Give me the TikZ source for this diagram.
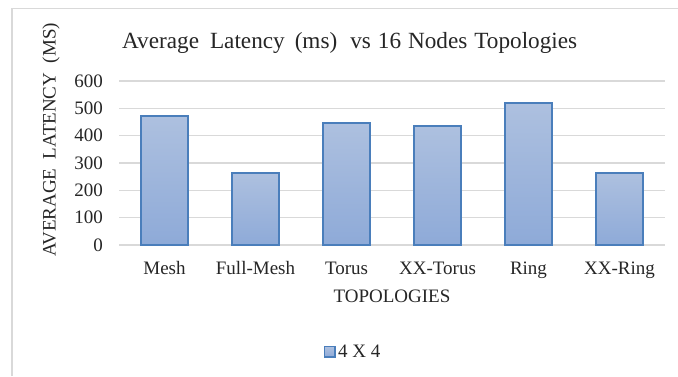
\documentclass[tikz,border=0pt]{standalone}
\usepackage{fontspec}
\setmainfont{Liberation Serif}
\definecolor{gridc}{HTML}{D9D9D9}
\definecolor{barline}{HTML}{4A7EBB}
\definecolor{bartop}{HTML}{ADC0DF}
\definecolor{barbot}{HTML}{8EAAD8}
\definecolor{txt}{HTML}{262626}
\begin{document}
\begin{tikzpicture}[x=1pt,y=-1pt,
  grid/.style={draw=gridc,line width=1.4pt},
  bar/.style={draw=barline,line width=1.8pt,top color=bartop,bottom color=barbot},
  ax/.style={text=txt,font=\fontsize{19}{22}\selectfont,inner sep=0pt},
  tick/.style={ax,anchor=east},
  cat/.style={ax,anchor=base}]
\useasboundingbox (0,0) rectangle (678,376);
\fill[white] (0,0) rectangle (678,376);
% frame
\draw[gridc,line width=1.5pt] (12,376) -- (12,8.5) -- (678,8.5);
% title
\node[ax,font=\fontsize{23.2}{26}\selectfont,anchor=base west] (title) at (122,48) {Average\hspace{11pt}Latency\hspace{10pt}(ms)\hspace{13pt}vs\hspace{7pt}16\hspace{7pt}Nodes\hspace{7pt}Topologies};
% gridlines and ticks
\foreach \v/\n in {0/t0,100/t1,200/t2,300/t3,400/t4,500/t5,600/t6}{
  \pgfmathsetmacro{\yy}{245-0.2733*\v}
  \draw[grid] (119,\yy) -- (665,\yy);
  \node[tick] (\n) at (103,\yy) {\v};
}
% bars
\foreach \c/\val/\nm/\lab in {0/472/mesh/Mesh,1/263/fmesh/Full-Mesh,2/446/torus/Torus,3/435/xxtorus/XX-Torus,4/519/ring/Ring,5/263/xxring/XX-Ring}{
  \pgfmathsetmacro{\cx}{164.5+91*\c}
  \pgfmathsetmacro{\yy}{245-0.2733*\val}
  \draw[bar] (\cx-23.5,245) rectangle (\cx+23.5,\yy);
  \node[cat] (\nm) at (\cx,274) {\lab};
}
% axis titles
\node[cat] (xlab) at (392,302) {TOPOLOGIES};
\node[ax,rotate=90] (ylab) at (51,140) {AVERAGE\ \ LATENCY\ \ (MS)};
% legend
\draw[bar,line width=1.2pt] (324.5,346.5) rectangle (335,357);
\node[ax,anchor=base west] (leg) at (338,357) {4 X 4};
\end{tikzpicture}
\end{document}
